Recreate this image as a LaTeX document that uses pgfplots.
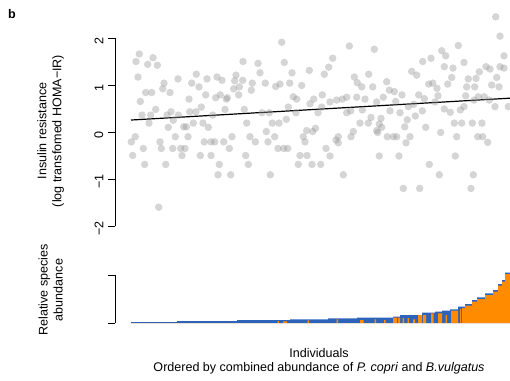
\documentclass[border=0pt]{standalone}
\usepackage{pgfplots}
\pgfplotsset{compat=1.18}
\usepackage{fontspec}
\setmainfont{Liberation Sans}
\definecolor{barblue}{RGB}{45,100,185}
\definecolor{barorange}{RGB}{255,140,0}
\definecolor{ptgray}{RGB}{150,150,150}
\begin{document}
\begin{tikzpicture}[font=\fontsize{9.4}{11.25}\selectfont]
\path[use as bounding box] (0,0) rectangle (382.5pt,-285pt);
\begin{axis}[
  at={(86.25pt,-169.5pt)}, anchor=south west,
  scale only axis, width=297.75pt, height=141pt,
  xmin=115, xmax=512, ymin=-2, ymax=2, clip=false,
  axis x line=none, axis y line*=left,
  ytick={-2,-1,0,1,2}, yticklabels={−2,−1,0,1,2},
  yticklabel style={rotate=90, anchor=south, xshift=-2pt},
  tick align=outside, major tick length=5.25pt,
  axis line style={black, line width=0.6pt},
  every tick/.style={black, line width=0.6pt},
]
\addplot[only marks, mark=*, mark size=2.8pt, color=ptgray, mark options={draw opacity=0, fill=ptgray, fill opacity=0.4}] coordinates {
(139.3,1.66)(136,1.50)(153,1.58)(147.7,1.44)(157.3,1.42)(138,1.17)(178,1.13)(196.3,1.23)
(164,1.04)(191.7,1.04)(207,1.13)(217,1.17)(222,1.10)(243,1.50)(258,1.46)(236,1.21)
(234.7,1.09)(242.7,1.10)(260,1.26)(252.3,1.04)(265.3,1.04)(275.7,0.97)(280,1.02)(281.7,1.91)
(284.3,1.48)(292,1.26)(289.7,1.04)(309.3,1.31)(301.7,0.99)(162.7,0.92)(145.7,0.84)(151.7,0.84)
(170,0.84)(199,0.96)(233.7,0.92)(239.3,0.96)(251.3,0.89)(205.7,0.79)(220.3,0.79)(215.7,0.73)
(227.3,0.73)(238.7,0.79)(140.3,0.65)(189,0.70)(226.3,0.70)(293.3,0.75)(296.7,0.70)(313.7,0.70)
(155.7,0.48)(201.3,0.53)(225,0.48)(244.3,0.48)(288.3,0.53)(310,0.60)(318,0.41)(142,0.36)
(150.7,0.36)(171,0.43)(167,0.36)(178.3,0.36)(189.7,0.43)(196,0.43)(212.7,0.36)(262,0.41)
(269.3,0.41)(296,0.41)(149,0.19)(173.3,0.25)(193.3,0.19)(203,0.19)(246.7,0.19)(272.3,0.19)
(279,0.19)(286.3,0.27)(168.3,0.10)(183.7,0.11)(186.3,0.11)(208.3,0.10)(266.3,0.01)(312.7,0.01)
(306.7,0.03)(315.5,0.08)(135.3,-0.10)(175.3,-0.10)(188,-0.10)(232,-0.10)(250,-0.10)(274.7,-0.10)
(303.3,-0.10)(131.3,-0.21)(160,-0.21)(204.3,-0.21)(211,-0.21)(214.7,-0.21)(223.7,-0.21)(255.3,-0.21)
(268,-0.21)(305,-0.21)(143.3,-0.35)(161.3,-0.35)(172.7,-0.35)(180.7,-0.35)(185,-0.35)(229.3,-0.35)
(278,-0.35)(283.7,-0.35)(287.7,-0.35)(132.7,-0.50)(182,-0.50)(200.3,-0.50)(211,-0.50)(245.7,-0.50)
(300,-0.50)(307,-0.50)(144.7,-0.69)(165.7,-0.69)(219.3,-0.69)(248.3,-0.69)(298.3,-0.69)(312,-0.69)
(320.7,-0.69)(218,-0.91)(230.7,-0.91)(270.3,-0.91)(158.7,-1.60)
(349.3,1.83)(374.3,1.76)(332.7,1.57)(328.7,1.38)(324.3,1.23)(354.3,1.17)(368.7,1.23)(357.3,1.05)
(361.7,0.96)(372.7,0.96)(386.7,1.07)(389.3,0.89)(394.3,0.86)(402,0.79)(395.7,0.65)(411.7,1.29)
(416.7,1.21)(422.7,1.50)(431,1.57)(441.7,1.73)(445.7,1.62)(458.3,1.84)(464,1.48)(444.3,1.39)
(453,1.36)(451.7,1.16)(447.7,1.02)(428.7,1.02)(432.7,1.04)(437,0.93)(418.7,0.79)(424.3,0.71)
(413.7,0.59)(438,0.77)(435,0.64)(444.3,0.49)(450.3,0.42)(464,0.54)(460.3,0.47)(465.7,0.77)
(468.3,1.13)(476,1.14)(479.3,1.28)(486,1.39)(490,1.34)(500,1.39)(504,1.36)(504,1.62)
(500,2.04)(495.7,2.45)(496.7,1.16)(491.7,1.00)(499,0.96)(474.7,0.96)(466.7,0.96)(484.3,0.75)
(489.3,0.68)(495,0.54)(508.3,0.54)(478.3,0.75)(474,0.68)(336.7,0.68)(330,0.64)(342.3,0.70)
(346.7,0.74)(356.7,0.74)(365,0.70)(383.3,0.74)(390,0.45)(376.7,0.64)(362.3,0.47)(350.7,0.45)
(346.7,0.41)(321.7,0.53)(322.3,0.79)(371,0.31)(379.3,0.17)(381.7,0.10)(376.7,0.03)(360,0.19)
(368.3,0.19)(407.3,0.26)(415.3,0.34)(422.3,0.45)(400,0.41)(404.7,0.11)(425.7,0.10)(454.3,0.19)
(461.7,0.19)(472.3,0.19)(482,0.19)(336,-0.17)(353.3,0.01)(351,-0.10)(338.3,-0.10)(338.3,-0.23)
(330,-0.51)(326,-0.35)(387.3,-0.10)(393.3,-0.10)(396.7,-0.10)(410,-0.10)(406,-0.23)(440.7,-0.01)
(456.7,-0.10)(477.7,-0.10)(482.7,-0.10)(487.7,-0.22)(379.3,-0.51)(399,-0.51)(455.3,-0.51)(429.3,-0.69)
(439.3,-0.91)(473.3,-0.91)(343.3,-0.91)(403.3,-1.20)(419.7,-1.20)(471,-1.20)(377.7,-0.01)(381,0.29)
(408.3,0.54)
};
\addplot[black, line width=0.9pt] coordinates {(131,0.255)(510,0.72)};
\end{axis}
\begin{axis}[
  at={(86.25pt,-242.25pt)}, anchor=south west,
  scale only axis, width=297.75pt, height=36pt,
  xmin=115, xmax=512, ymin=0, ymax=48, clip=false,
  axis x line=none, axis y line*=left,
  ytick={0,48}, yticklabels={},
  tick align=outside, major tick length=5.25pt,
  axis line style={black, line width=0.6pt},
  every tick/.style={black, line width=0.6pt},
]
\addplot[const plot mark left, fill=barblue, draw=none] coordinates {
(131,1)(177,2)(237,3)(290,3.7)(328,4.7)(357,5.3)(393,6.3)(400,8)(422,10.3)(435,11.3)
(442,12.3)(450,13.7)(458,16.3)(465,19)(472,23)(477,25.7)(485,29.7)(493,33)(498,39)
(502,43)(505,50.3)(510,50.3)} \closedcycle;
\addplot[const plot mark left, fill=barorange, draw=none] coordinates {
(131,0)(277.5,2)(279,0)(283,1.7)(287,0)(307.5,2.7)(309,0)(336.5,3.7)(338,0)
(360,3)(363.5,0)(374.5,3.7)(376,0)(384,3)(385.5,0)(393,5.3)(397,0)(398,5.3)(400,0)
(402.5,5)(404,0)(407.5,5)(409,0)(413,3.7)(415,0)(418,8)(422,0)(423,8)(426,0)
(431,9.7)(433.5,0)(438,9.7)(442,0)(445.5,8)(447,0)(451,12.3)(458,0)(460,14)(461,0)
(462,15)(465,17.5)(472,21.5)(477,24)(485,28)(493,31.5)(498,37.5)(502,41.5)(505,48.8)(510,48.8)} \closedcycle;
\end{axis}
\node[font=\fontsize{9.4}{11.25}\selectfont\bfseries] at (9pt,-10.5pt) {b};
\node[rotate=90, align=center] at (37.9pt,-98.25pt) {Insulin resistance\\(log transfomed HOMA−IR)};
\node[rotate=90, align=center] at (37.9pt,-217.5pt) {Relative species\\abundance};
\node at (239.25pt,-264.75pt) {Individuals};
\node at (239.25pt,-276pt) {Ordered by combined abundance of \textit{P. copri} and \textit{B.vulgatus}};
\end{tikzpicture}
\end{document}
